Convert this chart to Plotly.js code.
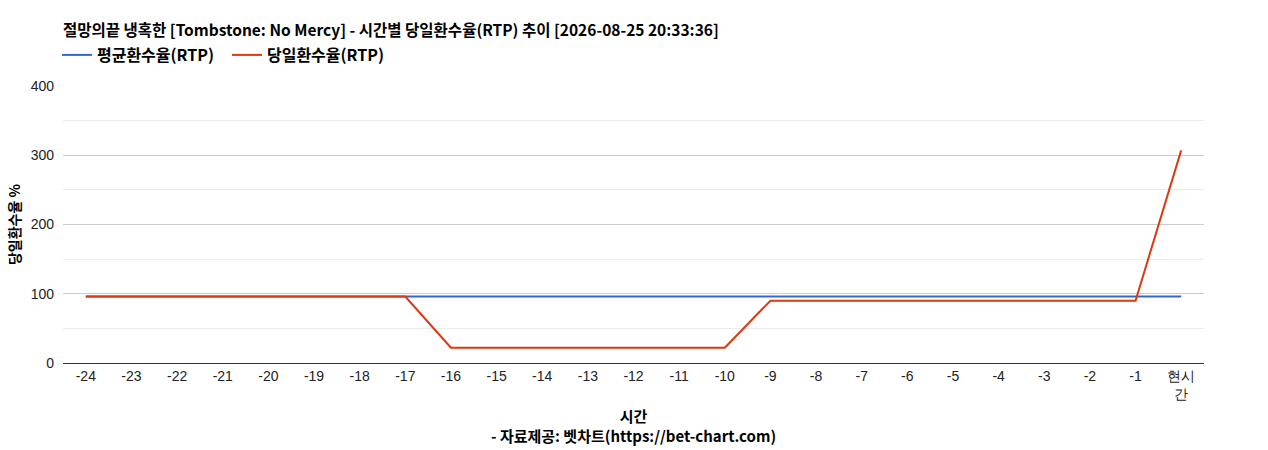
<!DOCTYPE html>
<html>
<head>
<meta charset="utf-8">
<script src="https://cdn.plot.ly/plotly-3.0.1.min.js"></script>
<style>
  html, body { margin: 0; padding: 0; background: #fff; }
  #chart { width: 1268px; height: 450px; }
</style>
</head>
<body>
<div id="chart"></div>
<script>
// 시간 축 카테고리
const hours = ['-24', '-23', '-22', '-21', '-20', '-19', '-18', '-17', '-16', '-15', '-14', '-13',
  '-12', '-11', '-10', '-9', '-8', '-7', '-6', '-5', '-4', '-3', '-2', '-1', '현시간'];
const hourLabels = ['-24', '-23', '-22', '-21', '-20', '-19', '-18', '-17', '-16', '-15', '-14', '-13',
  '-12', '-11', '-10', '-9', '-8', '-7', '-6', '-5', '-4', '-3', '-2', '-1', '현시<br>간'];

// 평균환수율 / 당일환수율
const avgRtp = [96, 96, 96, 96, 96, 96, 96, 96, 96, 96, 96, 96,
  96, 96, 96, 96, 96, 96, 96, 96, 96, 96, 96, 96, 96];
const dayRtp = [96, 96, 96, 96, 96, 96, 96, 96, 22, 22, 22, 22,
  22, 22, 22, 90, 90, 90, 90, 90, 90, 90, 90, 90, 307];

const yTicks = [0, 100, 200, 300, 400];

const korFont = '"Noto Sans CJK KR", "Noto Sans", sans-serif';

function drawChart() {
  const avgTrace = {
    x: hours,
    y: avgRtp,
    type: 'scatter',
    mode: 'lines',
    name: '평균환수율(RTP)',
    line: { color: '#3366cc', width: 2 },
    hoverinfo: 'skip'
  };
  const dayTrace = {
    x: hours,
    y: dayRtp,
    type: 'scatter',
    mode: 'lines',
    name: '당일환수율(RTP)',
    line: { color: '#dc3912', width: 2 },
    hoverinfo: 'skip'
  };
  const layout = {
    width: 1268,
    height: 450,
    title: {
      text: '절망의끝 냉혹한 [Tombstone: No Mercy] - 시간별 당일환수율(RTP) 추이 [2026-08-25 20:33:36]',
      font: { size: 15.5, family: korFont, weight: 700, color: '#000' },
      x: 0,
      xanchor: 'left',
      xref: 'paper',
      y: 1 - 31 / 450,
      yanchor: 'middle'
    },
    legend: {
      orientation: 'h',
      x: -0.0053,
      xanchor: 'left',
      y: 1 + 31 / 277,
      yanchor: 'middle',
      font: { size: 16, family: korFont, weight: 700, color: '#000' },
      itemwidth: 30,
      entrywidth: 125,
      entrywidthmode: 'pixels',
      tracegroupgap: 0
    },
    xaxis: {
      type: 'category',
      tickmode: 'array',
      tickvals: hours,
      ticktext: hourLabels,
      range: [-0.5, hours.length - 0.5],
      showgrid: false,
      showline: true,
      linecolor: '#333',
      linewidth: 1,
      ticks: '',
      tickfont: { size: 14, family: 'Liberation Sans, Arial, sans-serif', color: '#222' },
      title: {
        text: '<b>시간</b><br><b>- 자료제공: 벳차트(https://bet-chart.com)</b>',
        font: { size: 15, family: korFont, color: '#000' },
        standoff: 10
      },
      fixedrange: true
    },
    yaxis: {
      range: [0, 400],
      tickmode: 'array',
      tickvals: yTicks,
      tickfont: { size: 14, family: 'Liberation Sans, Arial, sans-serif', color: '#222' },
      ticklabelstandoff: 8,
      gridcolor: '#cccccc',
      gridwidth: 1,
      minor: { dtick: 50, showgrid: true, gridcolor: '#ebebeb', gridwidth: 1 },
      zeroline: false,
      ticks: '',
      title: {
        text: '당일환수율 %',
        font: { size: 14, family: korFont, weight: 700, color: '#000' },
        standoff: 6
      },
      fixedrange: true
    },
    margin: { t: 86, b: 87, l: 63, r: 64 },
    paper_bgcolor: '#fff',
    plot_bgcolor: '#fff',
    showlegend: true
  };
  const config = { displayModeBar: false, staticPlot: true };
  Plotly.newPlot('chart', [avgTrace, dayTrace], layout, config);
}

drawChart();
</script>
</body>
</html>
